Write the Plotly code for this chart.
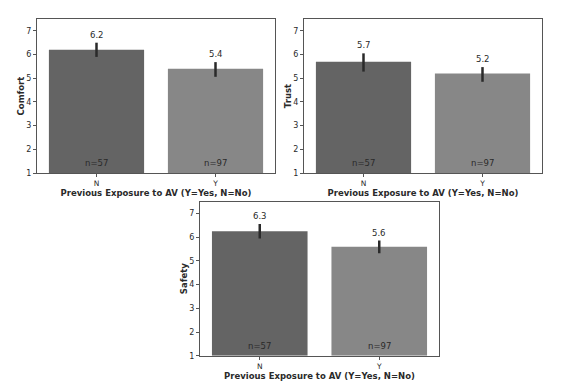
import plotly.graph_objects as go

categories = ["N", "Y"]
counts = ["n=57", "n=97"]
metrics = ["Comfort", "Trust", "Safety"]
comfort = [6.2, 5.4]
comfort_err_plus = [0.30, 0.28]
comfort_err_minus = [0.30, 0.34]
comfort_labels = ["6.2", "5.4"]
trust = [5.7, 5.2]
trust_err_plus = [0.35, 0.27]
trust_err_minus = [0.42, 0.35]
trust_labels = ["5.7", "5.2"]
safety = [6.25, 5.6]
safety_err_plus = [0.31, 0.26]
safety_err_minus = [0.30, 0.28]
safety_labels = ["6.3", "5.6"]
y_ticks = [1, 2, 3, 4, 5, 6, 7]

bar_colors = ["#646464", "#878787"]
W, H = 582, 386
domains = [
    ((37 / W, 275 / W), (1 - 173 / H, 1 - 19 / H)),
    ((304 / W, 542 / W), (1 - 173 / H, 1 - 19 / H)),
    ((200 / W, 439 / W), (1 - 355.7 / H, 1 - 201.7 / H)),
]
series = [
    (comfort, comfort_err_plus, comfort_err_minus, comfort_labels),
    (trust, trust_err_plus, trust_err_minus, trust_labels),
    (safety, safety_err_plus, safety_err_minus, safety_labels),
]

fig = go.Figure()
layout = dict(
    width=W, height=H, margin=dict(l=0, r=0, t=0, b=0, autoexpand=False),
    paper_bgcolor="white", plot_bgcolor="white", showlegend=False,
    font=dict(family="DejaVu Sans", color="#2a2a2a", size=8),
)
annotations = []
for i, (metric, (vals, ep, em, labs), (xd, yd)) in enumerate(zip(metrics, series, domains)):
    sfx = "" if i == 0 else str(i + 1)
    xa, ya = "x" + sfx, "y" + sfx
    fig.add_trace(go.Bar(
        x=categories, y=[v - 1 for v in vals], base=1, width=0.8,
        marker=dict(color=bar_colors, line=dict(width=0)),
        error_y=dict(type="data", symmetric=False, array=ep, arrayminus=em,
                     color="#2a2a2a", thickness=2.5, width=0),
        xaxis=xa, yaxis=ya, hoverinfo="skip",
    ))
    layout["xaxis" + sfx] = dict(
        domain=list(xd), anchor=ya, range=[-0.5, 1.5], type="category",
        showline=True, linecolor="#555555", linewidth=1, mirror=True,
        ticks="outside", ticklen=3, tickcolor="#555555", tickfont=dict(size=7.5),
        showgrid=False, automargin=False,
        title=dict(text="<b>Previous Exposure to AV (Y=Yes, N=No)</b>",
                   font=dict(size=8.5), standoff=1),
    )
    layout["yaxis" + sfx] = dict(
        domain=list(yd), anchor=xa, range=[1, 7.5], tickvals=y_ticks,
        showline=True, linecolor="#555555", linewidth=1, mirror=True,
        ticks="outside", ticklen=3, tickcolor="#555555", tickfont=dict(size=8),
        showgrid=False, zeroline=False, automargin=False,
        title=dict(text="<b>" + metric + "</b>", font=dict(size=8.5), standoff=0),
    )
    for c, v, e, n, lab in zip(categories, vals, ep, counts, labs):
        annotations.append(dict(x=c, y=v + e, xref=xa, yref=ya, text=lab,
                                showarrow=False, yshift=8, font=dict(size=8.5)))
        annotations.append(dict(x=c, y=1.42, xref=xa, yref=ya, text=n,
                                showarrow=False, font=dict(size=8.5)))
layout["annotations"] = annotations
fig.update_layout(**layout)
fig.write_html("out.html", config={"displayModeBar": False},
               post_script="document.body.style.margin='0';document.body.style.overflow='hidden';")
